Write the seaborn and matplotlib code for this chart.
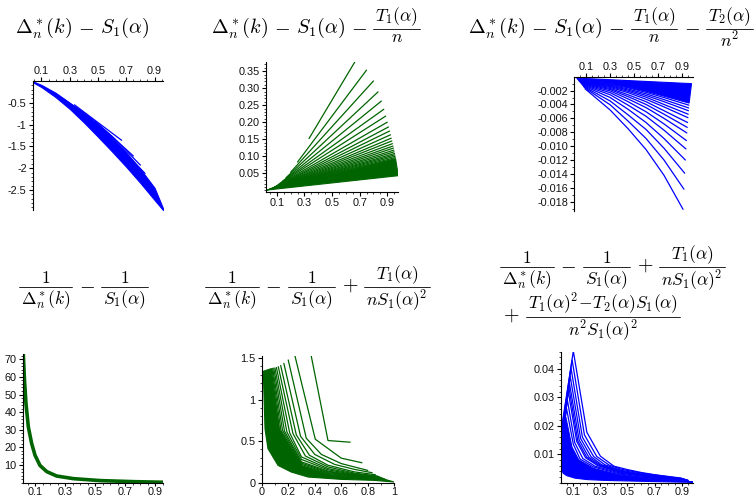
import numpy as np
import pandas as pd
import matplotlib
matplotlib.use('Agg')
import matplotlib.pyplot as plt
import seaborn as sns
from matplotlib.ticker import FixedLocator, FixedFormatter
from matplotlib.lines import Line2D

sns.set_theme(style='white')
plt.rcParams['font.family'] = ['Liberation Sans', 'DejaVu Sans']
plt.rcParams['mathtext.fontset'] = 'cm'

GREEN = '#006400'
BLUE = '#0000ff'
W, H = 756, 499

# ---------------- data ----------------
# Panel 1: Delta - S1   (blue)
p1_band_x = [0.04, 0.1, 0.2, 0.3, 0.4, 0.5, 0.6, 0.7, 0.8, 0.9, 0.96]
p1_band_hi = [-0.01, -0.09, -0.27, -0.5, -0.74, -1.0, -1.3, -1.64, -2.02, -2.45, -2.92]
p1_band_lo = [-0.03, -0.14, -0.37, -0.64, -0.95, -1.28, -1.62, -1.97, -2.34, -2.73, -2.96]
p1_lines = {
    3: ([0.333, 0.667], [-0.546, -1.36]),
    4: ([0.25, 0.5, 0.75], [-0.40, -0.98, -1.72]),
    5: ([0.2, 0.4, 0.6, 0.8], [-0.30, -0.73, -1.27, -1.93]),
    6: ([0.167, 0.333, 0.5, 0.667, 0.833], [-0.24, -0.60, -1.04, -1.57, -2.12]),
    7: ([0.143, 0.286, 0.429, 0.571, 0.714, 0.857], [-0.20, -0.50, -0.87, -1.30, -1.80, -2.30]),
}

# Panel 2: Delta - S1 - T1/n   (green), one straight line per n
p2_n = [3, 4, 5, 6, 7, 8, 9, 10, 11, 12, 13, 14, 15, 16, 17, 18, 19, 20, 21, 22, 23, 24]
p2_start = [0.152, 0.083, 0.053, 0.037, 0.027, 0.021, 0.017, 0.0135, 0.011, 0.0094, 0.008,
            0.0069, 0.006, 0.0053, 0.0047, 0.0042, 0.0037, 0.0034, 0.003, 0.0028, 0.0025, 0.0023]
p2_end = [0.378, 0.353, 0.321, 0.289, 0.262, 0.238, 0.218, 0.200, 0.186, 0.174, 0.163,
          0.153, 0.145, 0.137, 0.130, 0.124, 0.118, 0.113, 0.108, 0.104, 0.100, 0.096]
p2_fill_x = [0.02, 0.98, 0.96, 0.04]
p2_fill_y = [0.0005, 0.043, 0.093, 0.0021]

# Panel 3: Delta - S1 - T1/n - T2/n^2   (blue), values x 1e-3
p3_n = [11, 12, 13, 14, 15, 16, 17, 18, 19, 20, 21, 22, 23, 24]
p3_start = [-1.75, -1.55, -1.40, -1.26, -1.15, -1.05, -0.97, -0.90, -0.83, -0.78, -0.73, -0.69, -0.65, -0.62]
p3_at030 = [-4.8, -4.05, -3.5, -3.0, -2.6, -2.3, -2.05, -1.85, -1.7, -1.55, -1.42, -1.3, -1.2, -1.1]
p3_at045 = [-7.5, -6.4, -5.5, -4.7, -4.1, -3.6, -3.2, -2.87, -2.6, -2.3, -2.1, -1.93, -1.77, -1.6]
p3_at060 = [-10.5, -8.9, -7.6, -6.6, -5.7, -5.05, -4.45, -4.0, -3.6, -3.25, -2.95, -2.7, -2.47, -2.25]
p3_at075 = [-14.2, -12.0, -10.3, -8.9, -7.7, -6.8, -6.0, -5.4, -4.9, -4.35, -4.0, -3.6, -3.3, -3.0]
p3_end = [-19.1, -16.2, -13.9, -12.0, -10.4, -9.2, -8.1, -7.3, -6.6, -5.9, -5.4, -4.9, -4.5, -4.1]
p3_fill_x = [0.02, 0.98, 0.96, 0.75, 0.6, 0.45, 0.3, 0.04]
p3_fill_y = [-0.2, -1.0, -3.8, -2.8, -2.1, -1.5, -1.0, -0.6]

# Panel 4: 1/Delta - 1/S1   (green)
p4_x = [0.02, 0.0222, 0.03, 0.04, 0.0556, 0.0778, 0.1, 0.133, 0.178, 0.244, 0.356, 0.533, 0.756, 0.956]
p4_y = [73.5, 72.8, 58.0, 44.7, 31.6, 22.2, 15.6, 9.8, 6.3, 3.8, 2.3, 1.2, 0.6, 0.25]

# Panel 5: 1/Delta - 1/S1 + T1/(n S1^2)   (green)
p5_lines = {
    3: ([0.333, 0.5, 0.667], [1.85, 0.507, 0.487]),
    4: ([0.25, 0.404, 0.6, 0.756], [1.53, 0.523, 0.295, 0.24]),
    5: ([0.2, 0.336, 0.45, 0.6, 0.8], [1.476, 0.535, 0.34, 0.23, 0.148]),
    6: ([0.167, 0.293, 0.4, 0.55, 0.7, 0.833], [1.435, 0.558, 0.34, 0.22, 0.16, 0.12]),
    7: ([0.143, 0.261, 0.36, 0.5, 0.7, 0.857], [1.41, 0.575, 0.33, 0.21, 0.13, 0.096]),
    8: ([0.125, 0.236, 0.33, 0.5, 0.7, 0.875], [1.395, 0.59, 0.32, 0.19, 0.115, 0.08]),
    9: ([0.111, 0.211, 0.3, 0.5, 0.7, 0.889], [1.385, 0.60, 0.31, 0.17, 0.105, 0.07]),
    10: ([0.1, 0.19, 0.3, 0.5, 0.7, 0.9], [1.38, 0.61, 0.28, 0.155, 0.097, 0.062]),
    11: ([0.091, 0.172, 0.3, 0.5, 0.7, 0.909], [1.378, 0.62, 0.25, 0.14, 0.09, 0.056]),
    12: ([0.083, 0.157, 0.3, 0.5, 0.7, 0.917], [1.375, 0.63, 0.235, 0.13, 0.085, 0.05]),
    13: ([0.077, 0.145, 0.3, 0.5, 0.7, 0.923], [1.372, 0.63, 0.22, 0.12, 0.08, 0.046]),
    14: ([0.071, 0.135, 0.3, 0.5, 0.7, 0.929], [1.37, 0.635, 0.205, 0.11, 0.075, 0.043]),
}
p5_fill_x = [0.012, 0.07, 0.13, 0.3, 0.5, 0.7, 0.93, 1.0, 0.85, 0.6, 0.35, 0.223, 0.123, 0.047, 0.025, 0.012]
p5_fill_y = [1.34, 1.37, 0.64, 0.2, 0.1, 0.068, 0.04, 0.008, 0.028, 0.04, 0.068, 0.128, 0.208, 0.41, 0.646, 1.34]

# Panel 6: second-order corrected reciprocal   (blue), values x 1e-3
p6_lines = {
    10: ([0.014, 0.1, 0.2, 0.3, 0.4, 0.5, 0.6, 0.7, 0.8, 0.9], [19.5, 46.2, 17.7, 9.3, 5.8, 4.6, 3.6, 2.8, 2.2, 1.6]),
    11: ([0.014, 0.091, 0.182, 0.273, 0.364, 0.455, 0.6, 0.75, 0.909], [18.5, 43.1, 16.8, 9.2, 6.2, 4.7, 3.4, 2.4, 1.4]),
    12: ([0.014, 0.083, 0.167, 0.25, 0.333, 0.45, 0.6, 0.75, 0.917], [17.6, 40.2, 16.0, 9.2, 6.3, 4.4, 3.1, 2.2, 1.3]),
    13: ([0.014, 0.077, 0.154, 0.231, 0.31, 0.45, 0.6, 0.75, 0.923], [16.8, 37.3, 15.5, 9.1, 6.3, 4.1, 2.9, 2.0, 1.2]),
    14: ([0.014, 0.071, 0.143, 0.214, 0.3, 0.45, 0.6, 0.75, 0.929], [16.0, 35.0, 15.0, 9.0, 6.2, 3.9, 2.7, 1.9, 1.1]),
    15: ([0.014, 0.067, 0.133, 0.2, 0.29, 0.45, 0.6, 0.8, 0.933], [15.5, 33.5, 14.7, 8.9, 6.1, 3.7, 2.6, 1.7, 1.05]),
    16: ([0.014, 0.0625, 0.125, 0.19, 0.28, 0.45, 0.6, 0.8, 0.94], [15.0, 32.0, 14.5, 8.8, 6.0, 3.6, 2.5, 1.6, 1.0]),
    18: ([0.014, 0.056, 0.111, 0.17, 0.26, 0.45, 0.6, 0.8, 0.944], [14.0, 29.0, 14.0, 8.5, 5.8, 3.3, 2.3, 1.4, 0.9]),
    20: ([0.014, 0.05, 0.1, 0.15, 0.25, 0.45, 0.6, 0.8, 0.95], [13.0, 26.0, 13.5, 8.3, 5.5, 3.0, 2.0, 1.3, 0.8]),
}
p6_fill_x = [0.013, 0.045, 0.09, 0.14, 0.25, 0.45, 0.6, 0.8, 0.985, 0.985, 0.6, 0.334, 0.2, 0.112, 0.05, 0.026, 0.013]
p6_fill_y = [12.0, 23.0, 12.5, 8.0, 5.0, 2.7, 1.8, 1.1, 0.3, 0.1, 0.5, 0.8, 1.1, 1.6, 2.5, 3.3, 4.5]

odd_ticks = [0.1, 0.3, 0.5, 0.7, 0.9]
odd_labels = ['0.1', '0.3', '0.5', '0.7', '0.9']

# titles: (centre x, fraction-bar y, baseline y, items)
DELTA = r'$\Delta^*_n(k)$'
S1 = r'$S_1(\alpha)$'
titles = [
    (82.5, 29, 33, [('t', r'$\Delta^*_n(k)$'), ('o', r'$-$'), ('t', r'$S_1(\alpha)$')]),
    (315.5, 29, 33, [('t', r'$\Delta^*_n(k)$'), ('o', r'$-$'), ('t', r'$S_1(\alpha)$'), ('o', r'$-$'),
                     ('f', r'$T_1(\alpha)$', r'$n$')]),
    (610.5, 29, 33, [('t', r'$\Delta^*_n(k)$'), ('o', r'$-$'), ('t', r'$S_1(\alpha)$'), ('o', r'$-$'),
                     ('f', r'$T_1(\alpha)$', r'$n$'), ('o', r'$-$'), ('f', r'$T_2(\alpha)$', r'$n^2$')]),
    (83.5, 287, 291, [('f', r'$1$', DELTA), ('o', r'$-$'), ('f', r'$1$', S1)]),
    (317.5, 287, 291, [('f', r'$1$', DELTA), ('o', r'$-$'), ('f', r'$1$', S1), ('o', r'$+$'),
                       ('f', r'$T_1(\alpha)$', r'$nS_1(\alpha)^2$')]),
    (612.5, 267, 271, [('f', r'$1$', DELTA), ('o', r'$-$'), ('f', r'$1$', S1), ('o', r'$+$'),
                       ('f', r'$T_1(\alpha)$', r'$nS_1(\alpha)^2$')]),
    (588.5, 317, 321, [('o', r'$+$'),
                       ('f', r'$T_1(\alpha)^2\!-\!T_2(\alpha)S_1(\alpha)$', r'$n^2S_1(\alpha)^2$')]),
]

# ---------------- drawing ----------------
fig = plt.figure(figsize=(7.56, 4.99), dpi=100)
fig.patch.set_facecolor('white')
renderer = fig.canvas.get_renderer()


def make_ax(l, r, t, b):
    ax = fig.add_axes([l / W, 1 - b / H, (r - l) / W, (b - t) / H])
    ax.set_facecolor('none')
    return ax


def draw_lines(ax, lines, color, lw=0.9, scale=1.0):
    rows = []
    for name, (xs, ys) in lines.items():
        for x, y in zip(xs, ys):
            rows.append((str(name), x, y * scale))
    df = pd.DataFrame(rows, columns=['line', 'x', 'y'])
    sns.lineplot(data=df, x='x', y='y', units='line', estimator=None, sort=False,
                 color=color, lw=lw, ax=ax, legend=False)


def style(ax, xlim, ylim, xmaj, xlab, xmin, ymaj, ylab, ymin, top=False, xlen=3, xpad=1.5):
    ax.set_xlim(xlim)
    ax.set_ylim(ylim)
    ax.set_xlabel('')
    ax.set_ylabel('')
    ax.grid(False)
    ax.spines['right'].set_visible(False)
    if top:
        ax.spines['bottom'].set_visible(False)
        ax.xaxis.tick_top()
    else:
        ax.spines['top'].set_visible(False)
    for s in ax.spines.values():
        s.set_color('black')
        s.set_linewidth(0.8)
    ax.xaxis.set_major_locator(FixedLocator(xmaj))
    ax.xaxis.set_major_formatter(FixedFormatter(xlab))
    ax.xaxis.set_minor_locator(FixedLocator(xmin))
    ax.yaxis.set_major_locator(FixedLocator(ymaj))
    ax.yaxis.set_major_formatter(FixedFormatter(ylab))
    ax.yaxis.set_minor_locator(FixedLocator(ymin))
    ax.tick_params(which='major', length=3, width=0.8, direction='out', labelsize=7.8,
                   pad=1.5, colors='black', left=True, bottom=not top, top=top)
    ax.tick_params(axis='x', which='major', length=xlen, pad=xpad)
    ax.tick_params(which='minor', length=1.6, width=0.6, direction='out',
                   left=True, bottom=not top, top=top)
    for lab in ax.get_xticklabels() + ax.get_yticklabels():
        lab.set_color('#111111')


FS_MAIN = 14.5
FS_FRAC = 12.6
GAP = 6.0
FPAD = 2.5


def text_width(s, fs):
    t = fig.text(0, 0, s, fontsize=fs)
    w = t.get_window_extent(renderer).width
    t.remove()
    return w


def put(x, y, s, fs, ha, va):
    fig.text(x / W, 1 - y / H, s, fontsize=fs, ha=ha, va=va, color='black')


def draw_title(cx, bar_y, base_y, items):
    widths = []
    for it in items:
        if it[0] == 'f':
            widths.append(max(text_width(it[1], FS_FRAC), text_width(it[2], FS_FRAC)) + 2 * FPAD)
        elif it[0] == 'o':
            widths.append(text_width(it[1], FS_MAIN) + 2 * GAP)
        else:
            widths.append(text_width(it[1], FS_MAIN))
    total = sum(widths)
    x = cx - total / 2
    for it, w in zip(items, widths):
        if it[0] == 'f':
            xc = x + w / 2
            put(xc, bar_y - 1.0, it[1], FS_FRAC, 'center', 'bottom')
            put(xc, bar_y + 1.2, it[2], FS_FRAC, 'center', 'top')
            fig.add_artist(Line2D([(x + 0.5) / W, (x + w - 0.5) / W], [1 - bar_y / H] * 2,
                                  transform=fig.transFigure, color='black', lw=0.6))
        else:
            put(x + w / 2, base_y, it[1], FS_MAIN, 'center', 'baseline')
        x += w


x_minor = [0.05, 0.15, 0.2, 0.25, 0.35, 0.4, 0.45, 0.55, 0.6, 0.65, 0.75, 0.8, 0.85, 0.95]

# Panel 1
ax1 = make_ax(33, 163, 81, 210)
ax1.fill_between(p1_band_x, p1_band_lo, p1_band_hi, color=BLUE, lw=0.8, ec=BLUE)
draw_lines(ax1, p1_lines, BLUE)
style(ax1, (0.04, 0.96), (-2.96, 0.0), odd_ticks, odd_labels, x_minor,
      [-0.5, -1, -1.5, -2, -2.5], ['-0.5', '-1', '-1.5', '-2', '-2.5'],
      [-0.1 * i for i in range(1, 30)], top=True, xpad=0.6)

# Panel 2
ax2 = make_ax(265.7, 398.3, 61.7, 191.7)
p2_lines = {n: ([1 / n, (n - 1) / n], [s, e]) for n, s, e in zip(p2_n, p2_start, p2_end)}
ax2.fill(p2_fill_x, p2_fill_y, color=GREEN, lw=0.8, ec=GREEN)
draw_lines(ax2, p2_lines, GREEN)
style(ax2, (0.0196, 0.98), (-0.004, 0.3776), odd_ticks, odd_labels, x_minor,
      [0.05, 0.10, 0.15, 0.20, 0.25, 0.30, 0.35],
      ['0.05', '0.10', '0.15', '0.20', '0.25', '0.30', '0.35'],
      [0.01 * i for i in range(0, 38)])

# Panel 3
ax3 = make_ax(574.3, 692.7, 76.7, 210.7)
p3_lines = {n: ([1 / n, 0.3, 0.45, 0.6, 0.75, (n - 1) / n], [a, b, c, d, e, f])
            for n, a, b, c, d, e, f in zip(p3_n, p3_start, p3_at030, p3_at045, p3_at060, p3_at075, p3_end)}
ax3.fill(p3_fill_x, [v * 1e-3 for v in p3_fill_y], color=BLUE, lw=0.8, ec=BLUE)
draw_lines(ax3, p3_lines, BLUE, scale=1e-3)
style(ax3, (0.0, 0.99), (-0.0193, 0.0), odd_ticks, odd_labels, x_minor,
      [-0.002 * i for i in range(1, 10)], ['-0.%03d' % (2 * i) for i in range(1, 10)],
      [-0.001 * i for i in range(1, 20)], top=True, xpad=0.6)

# Panel 4
ax4 = make_ax(22.7, 163.3, 354, 482.7)
df4 = pd.DataFrame({'x': p4_x, 'y': p4_y})
sns.lineplot(data=df4, x='x', y='y', sort=False, estimator=None, color=GREEN, lw=2.6, ax=ax4)
style(ax4, (0.018, 0.955), (0, 73), odd_ticks, odd_labels, x_minor,
      [10, 20, 30, 40, 50, 60, 70], ['10', '20', '30', '40', '50', '60', '70'],
      [2 * i for i in range(0, 37)], xlen=2.5, xpad=0.8)

# Panel 5
ax5 = make_ax(261.7, 394.3, 356.3, 482.7)
ax5.fill(p5_fill_x, p5_fill_y, color=GREEN, lw=0.8, ec=GREEN)
draw_lines(ax5, p5_lines, GREEN)
style(ax5, (0.0, 1.0), (0.0, 1.52), [0, 0.2, 0.4, 0.6, 0.8, 1.0],
      ['0', '0.2', '0.4', '0.6', '0.8', '1'], [0.1, 0.3, 0.5, 0.7, 0.9],
      [0, 0.5, 1.0, 1.5], ['0', '0.5', '1', '1.5'], [0.1 * i for i in range(0, 16)],
      xlen=2.5, xpad=0.8)

# Panel 6
ax6 = make_ax(561, 693.3, 351.7, 482.7)
ax6.fill(p6_fill_x, [v * 1e-3 for v in p6_fill_y], color=BLUE, lw=0.8, ec=BLUE)
draw_lines(ax6, p6_lines, BLUE, scale=1e-3)
style(ax6, (0.009, 0.986), (0.0, 0.046), odd_ticks, odd_labels, x_minor,
      [0.01, 0.02, 0.03, 0.04], ['0.01', '0.02', '0.03', '0.04'],
      [0.002 * i for i in range(0, 24)], xlen=2.5, xpad=0.8)

for (cx, by, bl, items) in titles:
    draw_title(cx, by, bl, items)

fig.savefig('out.png', dpi=100, facecolor='white')
